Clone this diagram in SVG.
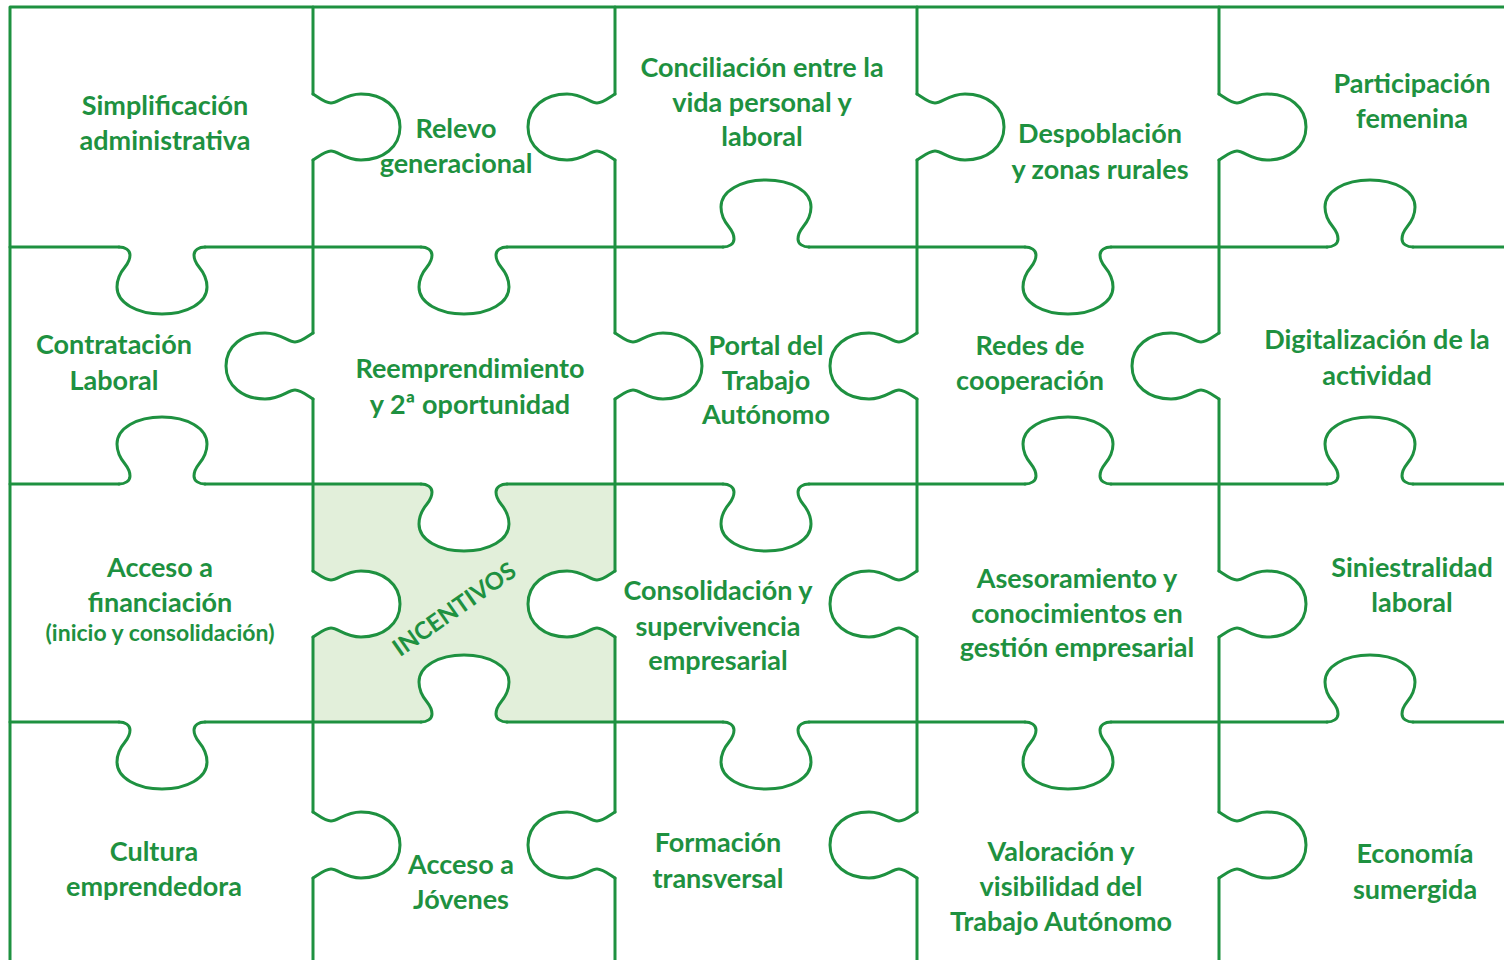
<svg xmlns="http://www.w3.org/2000/svg" xmlns:xlink="http://www.w3.org/1999/xlink" width="1504" height="960" viewBox="0 0 1504 960">
<style>
.e{fill:none;stroke:#1E9140;stroke-width:3;stroke-linecap:round;stroke-linejoin:round}
.w{fill:#ffffff;stroke:none}
.t{font-family:Lato,"Open Sans","Liberation Sans",sans-serif;font-weight:700;font-size:27px;fill:#1E9140;text-anchor:middle}
.s{font-size:23px}
.i{font-size:24px}
</style>
<defs>
<path id="hk" d="M-43,0 C-37,0 -32,3 -32,8 C-32,12 -33,15 -37,20 C-42,26 -45,32 -45,40 C-45,56 -25,67 0,67 C25,67 45,56 45,40 C45,32 42,26 37,20 C33,15 32,12 32,8 C32,3 37,0 43,0"/>
<path id="vk" d="M0,-33 C5,-30 12,-24 18,-24 C25,-24 32,-33 48,-33 C70,-33 87,-20 87,0 C87,20 70,33 48,33 C32,33 25,24 18,24 C12,24 5,30 0,33"/>
</defs>
<rect width="1504" height="960" fill="#ffffff"/>
<g id="incentivos-fill">
<rect x="313" y="484" width="302" height="238" fill="#E2EFDA"/>
<use href="#hk" class="w" transform="translate(464,484)"/>
<use href="#hk" class="w" transform="translate(464,722) scale(1,-1)"/>
<use href="#vk" class="w" transform="translate(313,604)"/>
<use href="#vk" class="w" transform="translate(615,604) scale(-1,1)"/>
</g>
<g id="edges">
<path class="e" d="M10,7 H1504 M10,7 V960"/>
<path class="e" d="M10,247 H119 M205,247 H421 M507,247 H723 M809,247 H1025 M1111,247 H1327 M1413,247 H1504"/>
<path class="e" d="M10,484 H119 M205,484 H421 M507,484 H723 M809,484 H1025 M1111,484 H1327 M1413,484 H1504"/>
<path class="e" d="M10,722 H119 M205,722 H421 M507,722 H723 M809,722 H1025 M1111,722 H1327 M1413,722 H1504"/>
<path class="e" d="M313,7 V94 M313,160 V333 M313,399 V571 M313,637 V812 M313,878 V960"/>
<path class="e" d="M615,7 V94 M615,160 V333 M615,399 V571 M615,637 V812 M615,878 V960"/>
<path class="e" d="M917,7 V94 M917,160 V333 M917,399 V571 M917,637 V812 M917,878 V960"/>
<path class="e" d="M1219,7 V94 M1219,160 V333 M1219,399 V571 M1219,637 V812 M1219,878 V960"/>
<use href="#hk" class="e" transform="translate(162,247)"/>
<use href="#hk" class="e" transform="translate(464,247)"/>
<use href="#hk" class="e" transform="translate(766,247) scale(1,-1)"/>
<use href="#hk" class="e" transform="translate(1068,247)"/>
<use href="#hk" class="e" transform="translate(1370,247) scale(1,-1)"/>
<use href="#hk" class="e" transform="translate(162,484) scale(1,-1)"/>
<use href="#hk" class="e" transform="translate(464,484)"/>
<use href="#hk" class="e" transform="translate(766,484)"/>
<use href="#hk" class="e" transform="translate(1068,484) scale(1,-1)"/>
<use href="#hk" class="e" transform="translate(1370,484) scale(1,-1)"/>
<use href="#hk" class="e" transform="translate(162,722)"/>
<use href="#hk" class="e" transform="translate(464,722) scale(1,-1)"/>
<use href="#hk" class="e" transform="translate(766,722)"/>
<use href="#hk" class="e" transform="translate(1068,722)"/>
<use href="#hk" class="e" transform="translate(1370,722) scale(1,-1)"/>
<use href="#vk" class="e" transform="translate(313,127)"/>
<use href="#vk" class="e" transform="translate(313,366) scale(-1,1)"/>
<use href="#vk" class="e" transform="translate(313,604)"/>
<use href="#vk" class="e" transform="translate(313,845)"/>
<use href="#vk" class="e" transform="translate(615,127) scale(-1,1)"/>
<use href="#vk" class="e" transform="translate(615,366)"/>
<use href="#vk" class="e" transform="translate(615,604) scale(-1,1)"/>
<use href="#vk" class="e" transform="translate(615,845) scale(-1,1)"/>
<use href="#vk" class="e" transform="translate(917,127)"/>
<use href="#vk" class="e" transform="translate(917,366) scale(-1,1)"/>
<use href="#vk" class="e" transform="translate(917,604) scale(-1,1)"/>
<use href="#vk" class="e" transform="translate(917,845) scale(-1,1)"/>
<use href="#vk" class="e" transform="translate(1219,127)"/>
<use href="#vk" class="e" transform="translate(1219,366) scale(-1,1)"/>
<use href="#vk" class="e" transform="translate(1219,604)"/>
<use href="#vk" class="e" transform="translate(1219,845)"/>
</g>
<g id="simplificacion"><text class="t" x="165" y="115">Simplificación</text><text class="t" x="165" y="150">administrativa</text></g>
<g id="relevo"><text class="t" x="456" y="138">Relevo</text><text class="t" x="456" y="173">generacional</text></g>
<g id="conciliacion"><text class="t" x="762" y="77">Conciliación entre la</text><text class="t" x="762" y="112">vida personal y</text><text class="t" x="762" y="146">laboral</text></g>
<g id="despoblacion"><text class="t" x="1100" y="143">Despoblación</text><text class="t" x="1100" y="179">y zonas rurales</text></g>
<g id="participacion"><text class="t" x="1412" y="93">Participación</text><text class="t" x="1412" y="128">femenina</text></g>
<g id="contratacion"><text class="t" x="114" y="354">Contratación</text><text class="t" x="114" y="390">Laboral</text></g>
<g id="reemprendimiento"><text class="t" x="470" y="378">Reemprendimiento</text><text class="t" x="470" y="414">y 2ª oportunidad</text></g>
<g id="portal"><text class="t" x="766" y="355">Portal del</text><text class="t" x="766" y="390">Trabajo</text><text class="t" x="766" y="424">Autónomo</text></g>
<g id="redes"><text class="t" x="1030" y="355">Redes de</text><text class="t" x="1030" y="390">cooperación</text></g>
<g id="digitalizacion"><text class="t" x="1377" y="349">Digitalización de la</text><text class="t" x="1377" y="385">actividad</text></g>
<g id="acceso-financiacion"><text class="t" x="160" y="577">Acceso a</text><text class="t" x="160" y="612">financiación</text><text class="t s" x="160" y="641">(inicio y consolidación)</text></g>
<g id="incentivos"><text class="t i" x="0" y="0" transform="translate(459,616) rotate(-35)">INCENTIVOS</text></g>
<g id="consolidacion"><text class="t" x="718" y="600">Consolidación y</text><text class="t" x="718" y="636">supervivencia</text><text class="t" x="718" y="670">empresarial</text></g>
<g id="asesoramiento"><text class="t" x="1077" y="588">Asesoramiento y</text><text class="t" x="1077" y="623">conocimientos en</text><text class="t" x="1077" y="657">gestión empresarial</text></g>
<g id="siniestralidad"><text class="t" x="1412" y="577">Siniestralidad</text><text class="t" x="1412" y="612">laboral</text></g>
<g id="cultura"><text class="t" x="154" y="861">Cultura</text><text class="t" x="154" y="896">emprendedora</text></g>
<g id="acceso-jovenes"><text class="t" x="461" y="874">Acceso a</text><text class="t" x="461" y="909">Jóvenes</text></g>
<g id="formacion"><text class="t" x="718" y="852">Formación</text><text class="t" x="718" y="888">transversal</text></g>
<g id="valoracion"><text class="t" x="1061" y="861">Valoración y</text><text class="t" x="1061" y="896">visibilidad del</text><text class="t" x="1061" y="931">Trabajo Autónomo</text></g>
<g id="economia"><text class="t" x="1415" y="863">Economía</text><text class="t" x="1415" y="899">sumergida</text></g>
</svg>
